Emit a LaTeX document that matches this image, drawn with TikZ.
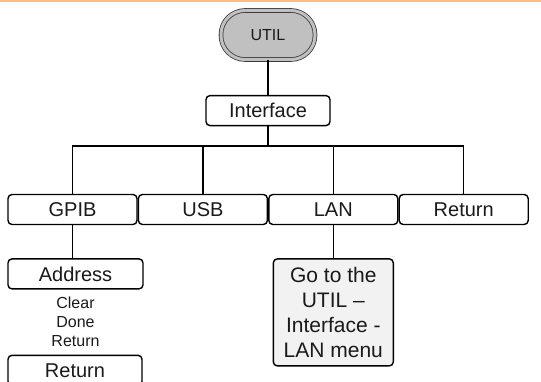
\documentclass[tikz,border=0pt]{standalone}
\usepackage{fontspec}
\setmainfont{Liberation Sans}
\usepackage{tikz}
\usetikzlibrary{positioning,calc}
\definecolor{UtilGray}{HTML}{C0C0C0}
\definecolor{UtilLine}{HTML}{3A3A3A}
\definecolor{UtilOrange}{HTML}{F8C089}
\definecolor{UtilPale}{HTML}{F2F2F2}
\definecolor{UtilText}{HTML}{1A1A1A}
\tikzset{utilkey/.style={rectangle, rounded corners=24pt, draw=UtilLine, line width=0.8pt, double=UtilGray, double distance=3pt, fill=UtilGray, minimum width=94pt, minimum height=49pt, inner sep=0pt, text=UtilText, font=\fontsize{16}{19}\selectfont}, menubox/.style={draw=black, line width=1.4pt, rounded corners=4pt, fill=white, minimum height=30pt, inner sep=0pt, text=UtilText, font=\fontsize{20}{24}\selectfont}, rowbox/.style={menubox, minimum width=129pt}, lanbox/.style={menubox, fill=UtilPale, align=center, minimum width=120pt, minimum height=107pt, font=\fontsize{21}{25}\selectfont}, subitems/.style={align=center, inner sep=0pt, text=UtilText, font=\fontsize{16}{19}\selectfont}, link/.style={line width=1.4pt, draw=black}, topline/.style={line width=2.5pt, draw=UtilOrange}}

\begin{document}
\begin{tikzpicture}[x=1pt,y=-1pt,node distance=33pt]
\clip (0,0) rectangle (541,382);
\draw[topline] (0,0.5) -- (541,0.5);
\node[utilkey] (util) at (268,35) {UTIL};
\node[menubox, minimum width=124pt, below=35pt of util] (iface) {Interface};
\coordinate (bar) at (268,146);
\node[rowbox] (gpib) at (72.5,209.5) {GPIB};
\node[rowbox, right=0pt of gpib] (usb) {USB};
\node[rowbox, right=0pt of usb] (lan) {LAN};
\node[rowbox, right=0pt of lan] (ret) {Return};
\node[menubox, minimum width=135pt, below=of gpib, xshift=3pt] (addr) {Address};
\node[subitems, below=7pt of addr] (opts) {Clear\\Done\\Return};
\node[menubox, minimum width=134pt, below=65pt of addr, xshift=-0.5pt] (addrret) {Return};
\node[lanbox, below=of lan] (lanmenu) {Go to the\\UTIL --\\Interface -\\LAN menu};
\draw[link] (util) -- (iface);
\draw[link] (iface) -- (iface |- bar);
\draw[link] (gpib.north) |- (bar) -| (ret.north);
\draw[link] (usb) -- (usb |- bar);
\draw[link] (lan) -- (lan |- bar);
\draw[link] (gpib) -- (gpib |- addr.north);
\draw[link] (lan) -- (lanmenu);
\end{tikzpicture}
\end{document}
